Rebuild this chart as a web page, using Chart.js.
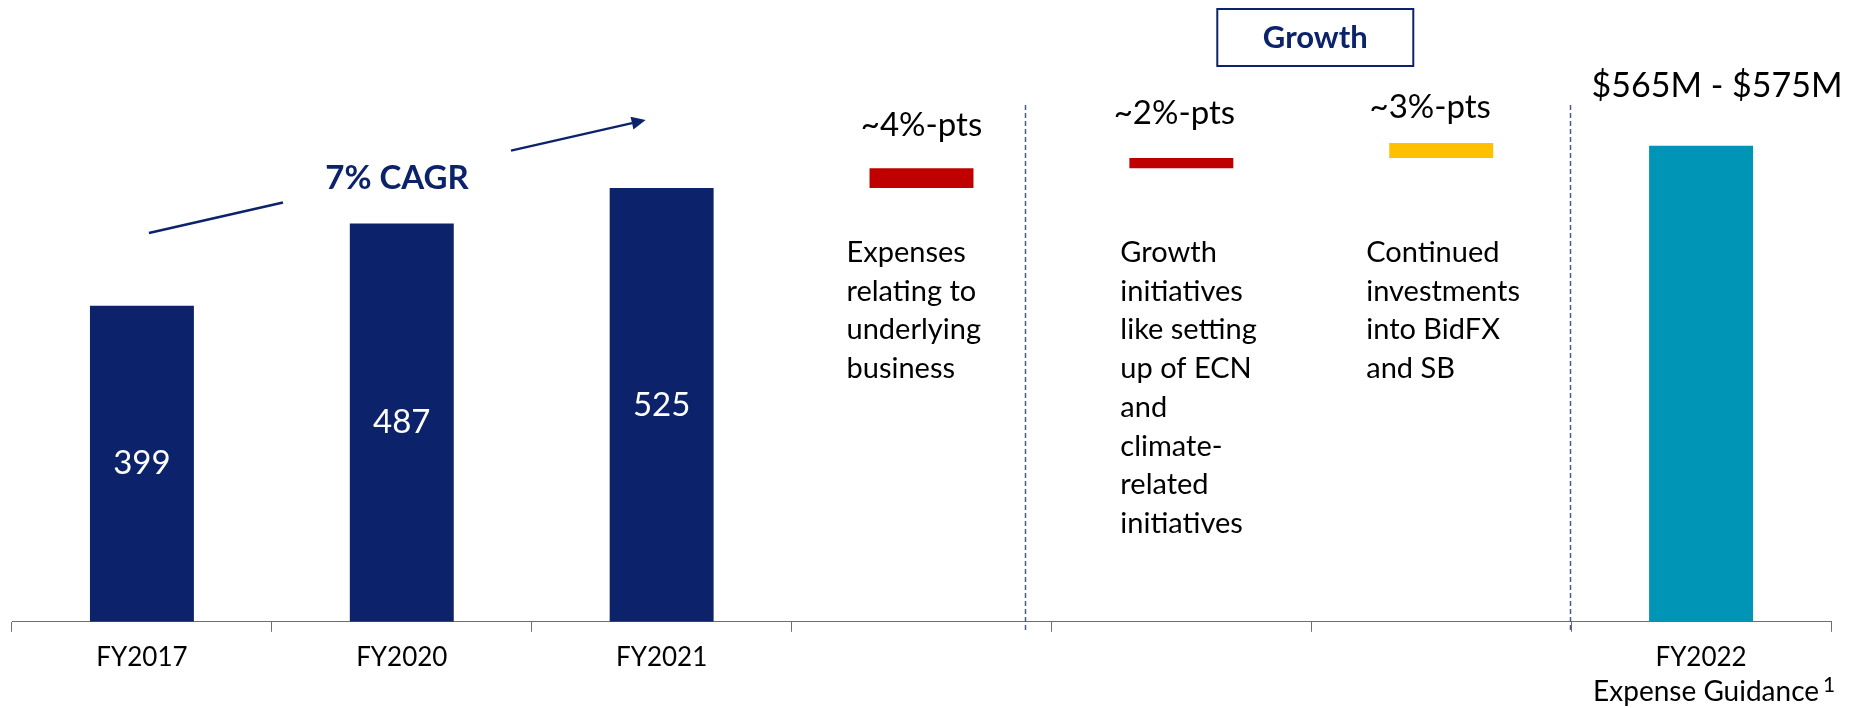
<!DOCTYPE html>
<html>
<head>
<meta charset="utf-8">
<script src="https://cdn.jsdelivr.net/npm/chart.js@4/dist/chart.umd.min.js"></script>
<style>
  html, body { margin: 0; padding: 0; background: #ffffff; }
  canvas { display: block; }
</style>
</head>
<body>
<canvas id="expenseChart" width="1858" height="708"></canvas>
<script>
// Operating expenses, USD millions
const categories = ['FY2017', 'FY2020', 'FY2021', '', '', '', 'FY2022'];
const reportedExpenses = [399, 487, 525];
const bridgeSteps = [[525, 546], [546, 557], [557, 573]];
const bridgeLabels = ['~4%-pts', '~2%-pts', '~3%-pts'];
const bridgeNotes = [
  ['Expenses', 'relating to', 'underlying', 'business'],
  ['Growth', 'initiatives', 'like setting', 'up of ECN', 'and', 'climate-', 'related', 'initiatives'],
  ['Continued', 'investments', 'into BidFX', 'and SB']
];
const guidanceRange = [565, 575];
const guidanceMid = 570;
const guidanceSubLabel = 'Expense Guidance';
const guidanceFootnote = '1';
const cagrLabel = '7% CAGR';
const growthTag = 'Growth';

const Y_MIN = 61;
const Y_MAX = 680;

const NAVY = '#0c236b';
const RED = '#c00000';
const AMBER = '#ffc000';
const TEAL = '#0095b6';
const AXIS_GREY = '#6e6e6e';
const FONT = 'Lato, "Open Sans", sans-serif';

const barValues = [...reportedExpenses, ...bridgeSteps, guidanceMid];
const barColors = [NAVY, NAVY, NAVY, RED, RED, AMBER, TEAL];

// Text and marks drawn on top of the bars
const annotations = {
  id: 'annotations',
  afterDatasetsDraw(chart) {
    const ctx = chart.ctx;
    const bars = chart.getDatasetMeta(0).data;
    const xs = chart.scales.x;
    const catW = xs.getPixelForValue(1) - xs.getPixelForValue(0);
    ctx.save();

    // values inside the reported bars
    ctx.fillStyle = '#ffffff';
    ctx.font = '33px ' + FONT;
    ctx.textAlign = 'center';
    ctx.textBaseline = 'middle';
    reportedExpenses.forEach((v, i) => {
      const b = bars[i];
      ctx.fillText(String(v), b.x, (b.y + b.base) / 2);
    });

    // bridge step labels and notes
    const labelShift = [[0, 32], [-7, 34], [-11, 25]];
    const noteIndent = [75, 61, 75];
    ctx.fillStyle = '#000000';
    ctx.textBaseline = 'alphabetic';
    bridgeSteps.forEach((s, k) => {
      const b = bars[3 + k];
      const top = Math.min(b.y, b.base);
      ctx.font = '33px ' + FONT;
      ctx.textAlign = 'center';
      ctx.fillText(bridgeLabels[k], b.x + labelShift[k][0], top - labelShift[k][1]);
      ctx.font = '29px ' + FONT;
      ctx.textAlign = 'left';
      bridgeNotes[k].forEach((line, j) => {
        ctx.fillText(line, b.x - noteIndent[k], 262 + j * 38.7);
      });
    });

    // guidance range above the FY2022 bar
    const g = bars[6];
    ctx.font = '34px ' + FONT;
    ctx.textAlign = 'center';
    ctx.fillText('$' + guidanceRange[0] + 'M - $' + guidanceRange[1] + 'M', g.x + 16, g.y - 49);

    // second line of the FY2022 category label with footnote mark
    ctx.font = '28px ' + FONT;
    ctx.fillText(guidanceSubLabel, g.x + 5, 701);
    ctx.font = '21px ' + FONT;
    ctx.fillText(guidanceFootnote, g.x + 128, 692);

    // dashed separators
    ctx.strokeStyle = '#4a5a8f';
    ctx.lineWidth = 1.5;
    ctx.setLineDash([5, 3]);
    [xs.getPixelForValue(3) + 0.4 * catW, xs.getPixelForValue(6) - 0.505 * catW].forEach(px => {
      ctx.beginPath();
      ctx.moveTo(Math.round(px) + 0.5, 105);
      ctx.lineTo(Math.round(px) + 0.5, 633);
      ctx.stroke();
    });
    ctx.setLineDash([]);

    // "Growth" tag box
    const gx = (bars[4].x + bars[5].x) / 2 + 4;
    ctx.strokeStyle = NAVY;
    ctx.lineWidth = 2;
    ctx.strokeRect(gx - 98, 9, 196, 57);
    ctx.fillStyle = NAVY;
    ctx.font = 'bold 31px ' + FONT;
    ctx.textAlign = 'center';
    ctx.fillText(growthTag, gx, 48);

    // CAGR arrow with label
    const p0 = [bars[0].x + 7, 233];
    const p1 = [bars[2].x - 16, 120];
    const slope = (p1[1] - p0[1]) / (p1[0] - p0[0]);
    const yAt = x => p0[1] + slope * (x - p0[0]);
    const gapA = 283, gapB = 511;
    ctx.strokeStyle = NAVY;
    ctx.lineWidth = 2.5;
    ctx.beginPath();
    ctx.moveTo(p0[0], p0[1]);
    ctx.lineTo(gapA, yAt(gapA));
    ctx.moveTo(gapB, yAt(gapB));
    const ang = Math.atan2(p1[1] - p0[1], p1[0] - p0[0]);
    const headLen = 14, headHalf = 6.5;
    const bx = p1[0] - headLen * Math.cos(ang), by = p1[1] - headLen * Math.sin(ang);
    ctx.lineTo(bx, by);
    ctx.stroke();
    ctx.beginPath();
    ctx.moveTo(p1[0], p1[1]);
    ctx.lineTo(bx + headHalf * Math.sin(ang), by - headHalf * Math.cos(ang));
    ctx.lineTo(bx - headHalf * Math.sin(ang), by + headHalf * Math.cos(ang));
    ctx.closePath();
    ctx.fill();

    ctx.font = 'bold 33px ' + FONT;
    ctx.fillText(cagrLabel, 397, 189);

    ctx.restore();
  }
};

new Chart(document.getElementById('expenseChart'), {
  type: 'bar',
  data: {
    labels: categories,
    datasets: [{
      data: barValues,
      base: Y_MIN,
      backgroundColor: barColors,
      borderWidth: 0,
      categoryPercentage: 1,
      barPercentage: 0.4
    }]
  },
  options: {
    responsive: false,
    animation: false,
    layout: { padding: { left: 12, right: 27, top: 43, bottom: 25 } },
    plugins: {
      legend: { display: false },
      tooltip: { enabled: false }
    },
    scales: {
      x: {
        grid: {
          offset: true,
          drawOnChartArea: false,
          drawTicks: true,
          tickLength: 10,
          color: AXIS_GREY,
          lineWidth: 1
        },
        border: { display: true, color: AXIS_GREY, width: 1 },
        ticks: {
          font: { family: FONT, size: 26 },
          color: '#000000',
          padding: 10,
          maxRotation: 0,
          autoSkip: false
        }
      },
      y: { display: false, min: Y_MIN, max: Y_MAX }
    }
  },
  plugins: [annotations]
});
</script>
</body>
</html>
